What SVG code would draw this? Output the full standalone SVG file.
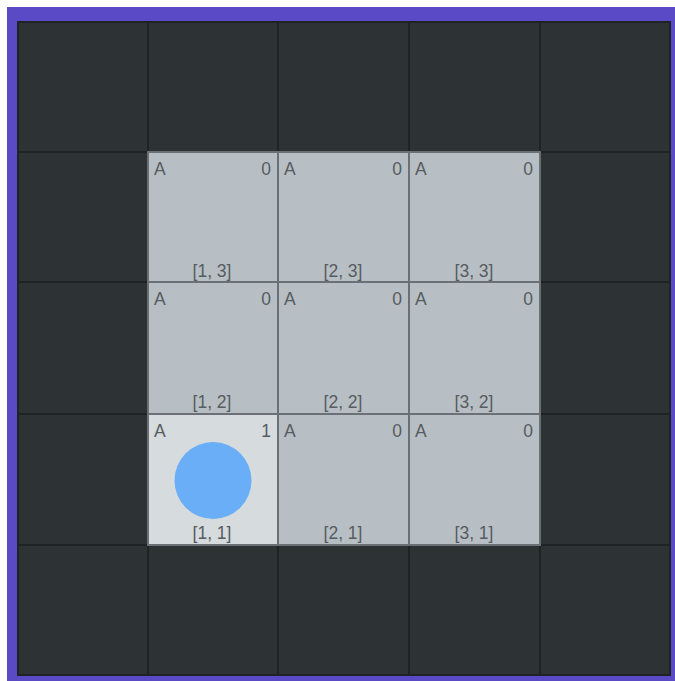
<svg xmlns="http://www.w3.org/2000/svg" width="675" height="681" viewBox="0 0 675 681">
<style>
.dark{fill:#2d3234;stroke:#1f2325;stroke-width:2}
.light{fill:#b8bfc4;stroke:#6a7075;stroke-width:2}
.lit{fill:#d6dbde;stroke:#6a7075;stroke-width:2}
text{font-family:"Liberation Sans",Arial,sans-serif;font-size:17.5px;fill:#565c61;font-weight:300}
.r{text-anchor:end}
.c{text-anchor:middle}
</style>
<rect x="0" y="0" width="675" height="681" fill="#ffffff"/>
<rect x="7" y="7" width="668" height="674" fill="#5a4ac6"/>
<g id="background">
<rect class="dark" x="18" y="22" width="130" height="130"/>
<rect class="dark" x="148" y="22" width="130" height="130"/>
<rect class="dark" x="278" y="22" width="131" height="130"/>
<rect class="dark" x="409" y="22" width="131" height="130"/>
<rect class="dark" x="540" y="22" width="130" height="130"/>
<rect class="dark" x="18" y="152" width="130" height="130"/>
<rect class="dark" x="540" y="152" width="130" height="130"/>
<rect class="dark" x="18" y="282" width="130" height="132"/>
<rect class="dark" x="540" y="282" width="130" height="132"/>
<rect class="dark" x="18" y="414" width="130" height="131"/>
<rect class="dark" x="540" y="414" width="130" height="131"/>
<rect class="dark" x="18" y="545" width="130" height="130"/>
<rect class="dark" x="148" y="545" width="130" height="130"/>
<rect class="dark" x="278" y="545" width="131" height="130"/>
<rect class="dark" x="409" y="545" width="131" height="130"/>
<rect class="dark" x="540" y="545" width="130" height="130"/>
</g>
<g id="cell-1-3"><rect class="light" x="148" y="152" width="130" height="130"/><text x="154" y="175">A</text><text class="r" x="271" y="175">0</text><text class="c" x="212" y="277">[1, 3]</text></g>
<g id="cell-2-3"><rect class="light" x="278" y="152" width="131" height="130"/><text x="284" y="175">A</text><text class="r" x="402" y="175">0</text><text class="c" x="343" y="277">[2, 3]</text></g>
<g id="cell-3-3"><rect class="light" x="409" y="152" width="131" height="130"/><text x="415" y="175">A</text><text class="r" x="533" y="175">0</text><text class="c" x="474" y="277">[3, 3]</text></g>
<g id="cell-1-2"><rect class="light" x="148" y="282" width="130" height="132"/><text x="154" y="305">A</text><text class="r" x="271" y="305">0</text><text class="c" x="212" y="408">[1, 2]</text></g>
<g id="cell-2-2"><rect class="light" x="278" y="282" width="131" height="132"/><text x="284" y="305">A</text><text class="r" x="402" y="305">0</text><text class="c" x="343" y="408">[2, 2]</text></g>
<g id="cell-3-2"><rect class="light" x="409" y="282" width="131" height="132"/><text x="415" y="305">A</text><text class="r" x="533" y="305">0</text><text class="c" x="474" y="408">[3, 2]</text></g>
<g id="cell-1-1"><rect class="lit" x="148" y="414" width="130" height="131"/><text x="154" y="437">A</text><text class="r" x="271" y="437">1</text><circle cx="213" cy="480.5" r="38.5" fill="#6aaef7"/><text class="c" x="212" y="539">[1, 1]</text></g>
<g id="cell-2-1"><rect class="light" x="278" y="414" width="131" height="131"/><text x="284" y="437">A</text><text class="r" x="402" y="437">0</text><text class="c" x="343" y="539">[2, 1]</text></g>
<g id="cell-3-1"><rect class="light" x="409" y="414" width="131" height="131"/><text x="415" y="437">A</text><text class="r" x="533" y="437">0</text><text class="c" x="474" y="539">[3, 1]</text></g>
<g id="connectors"></g>
</svg>
